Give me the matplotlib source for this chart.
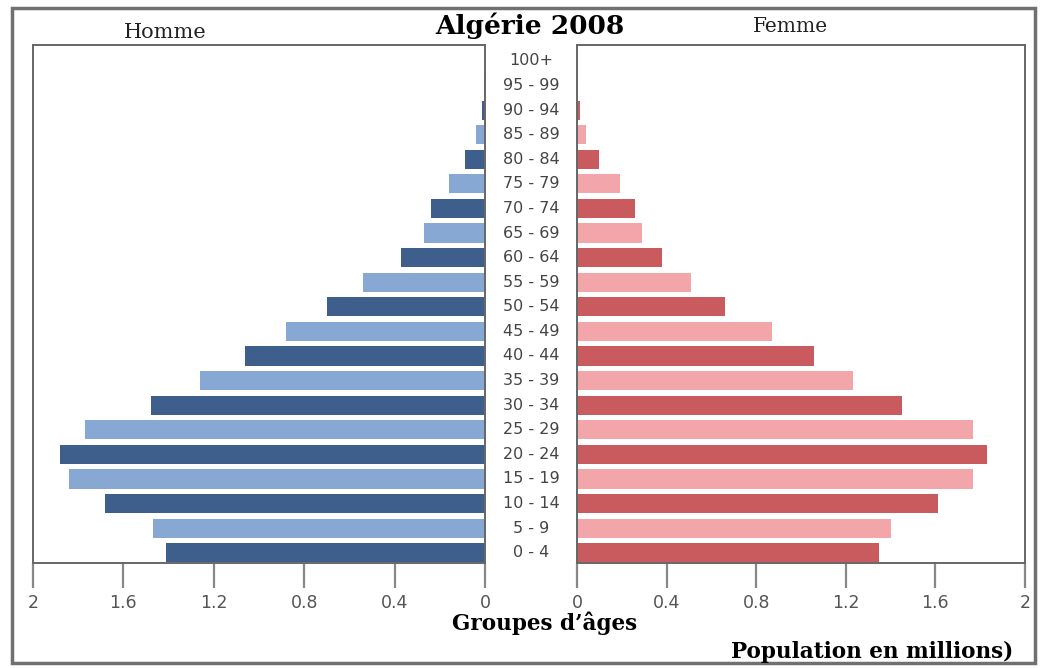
import matplotlib.pyplot as plt
import numpy as np
from matplotlib.patches import Rectangle
from matplotlib.transforms import blended_transform_factory

# Data (millions)
ages = ["0 - 4", "5 - 9", "10 - 14", "15 - 19", "20 - 24", "25 - 29", "30 - 34",
        "35 - 39", "40 - 44", "45 - 49", "50 - 54", "55 - 59", "60 - 64", "65 - 69",
        "70 - 74", "75 - 79", "80 - 84", "85 - 89", "90 - 94", "95 - 99", "100+"]
homme = [1.41, 1.47, 1.68, 1.84, 1.88, 1.77, 1.48, 1.26, 1.06, 0.88, 0.70,
         0.54, 0.37, 0.27, 0.24, 0.16, 0.09, 0.04, 0.015, 0.004, 0.0]
femme = [1.35, 1.40, 1.61, 1.77, 1.83, 1.77, 1.45, 1.23, 1.06, 0.87, 0.66,
         0.51, 0.38, 0.29, 0.26, 0.19, 0.10, 0.04, 0.012, 0.003, 0.0]
xticks = [0, 0.4, 0.8, 1.2, 1.6, 2]
xticklabels = ["0", "0.4", "0.8", "1.2", "1.6", "2"]

W, H = 1041, 668
fig = plt.figure(figsize=(W / 100, H / 100), dpi=100)

blue_dark, blue_light = "#3e5f8c", "#87a8d3"
red_dark, red_light = "#c95b5f", "#f2a6aa"
y = np.arange(len(ages))
cols_h = [blue_dark if i % 2 == 0 else blue_light for i in y]
cols_f = [red_dark if i % 2 == 0 else red_light for i in y]

def px_axes(x0, x1, y0, y1):
    return fig.add_axes([x0 / W, 1 - y1 / H, (x1 - x0) / W, (y1 - y0) / H])

ax_l = px_axes(33, 485, 45, 563)
ax_r = px_axes(577, 1025, 45, 563)

ax_l.barh(y, homme, height=0.78, color=cols_h)
ax_r.barh(y, femme, height=0.78, color=cols_f)
ax_l.set_xlim(2, 0)
ax_r.set_xlim(0, 2)

for ax in (ax_l, ax_r):
    ax.set_ylim(-0.42, 20.65)
    ax.set_yticks([])
    ax.set_xticks(xticks)
    ax.set_xticklabels(xticklabels)
    ax.tick_params(axis="x", length=18, width=1.6, color="#888888",
                   labelcolor="#555555", labelsize=12.5, pad=4)
    for s in ax.spines.values():
        s.set_color("#666666")
        s.set_linewidth(1.4)

# age group labels in the middle gap
tr = blended_transform_factory(fig.transFigure, ax_l.transData)
for i, lab in enumerate(ages):
    ax_l.text(531 / W, i, lab, transform=tr, ha="center", va="center",
              fontsize=11.5, color="#444444", clip_on=False)

# texts
fig.text(530 / W, 1 - 26 / H, "Algérie 2008", ha="center", va="center",
         fontsize=19, fontweight="bold", family="DejaVu Serif")
fig.text(165 / W, 1 - 32 / H, "Homme", ha="center", va="center",
         fontsize=15, family="DejaVu Serif", color="#222222")
fig.text(790 / W, 1 - 27 / H, "Femme", ha="center", va="center",
         fontsize=14.5, family="DejaVu Serif", color="#222222")
fig.text(545 / W, 1 - 623 / H, "Groupes d’âges", ha="center", va="center",
         fontsize=15.5, fontweight="bold", family="DejaVu Serif")
fig.text(1013 / W, 1 - 652 / H, "Population en millions)", ha="right", va="center",
         fontsize=15.5, fontweight="bold", family="DejaVu Serif")

# outer frame
fig.patches.append(Rectangle((12 / W, 1 - 663 / H), (1035 - 12) / W, (663 - 8) / H,
                             transform=fig.transFigure, fill=False,
                             edgecolor="#707070", linewidth=2.5))

fig.savefig("out.png", dpi=100)
